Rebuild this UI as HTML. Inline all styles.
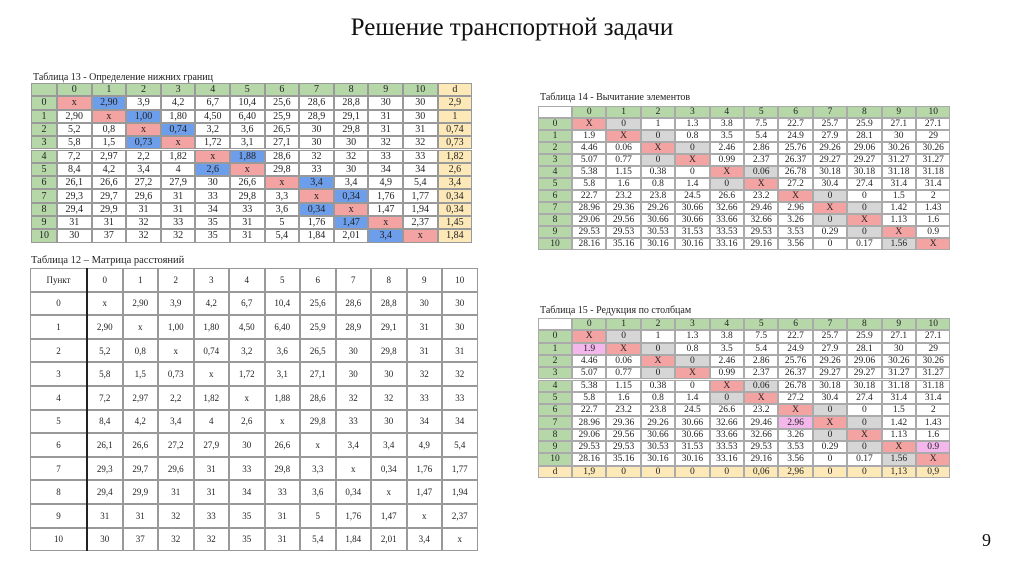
<!DOCTYPE html>
<html><head><meta charset="utf-8">
<style>
body{margin:0;width:1024px;height:574px;background:#fff;position:relative;overflow:hidden;font-family:"Liberation Serif","DejaVu Serif",serif}
.c{position:absolute;box-sizing:border-box;display:flex;align-items:center;justify-content:center;color:#222;white-space:nowrap}
.cap{position:absolute;font-size:10px;color:#222;white-space:nowrap}
</style></head><body>
<div style="position:absolute;left:0;width:1024px;top:14px;text-align:center;font-size:25px;color:#111">Решение транспортной задачи</div>
<div style="position:absolute;left:982px;top:530px;font-size:18px;color:#111">9</div>
<div class="cap" style="left:33px;top:72px">Таблица 13 - Определение нижних границ</div>
<div class="cap" style="left:540px;top:92px">Таблица 14 - Вычитание элементов</div>
<div class="cap" style="left:540px;top:305px">Таблица 15 - Редукция по столбцам</div>
<div class="cap" style="left:31px;top:255px;font-size:10.5px">Таблица 12 – Матрица расстояний</div>
<script>
const t12=[
["x","2,90","3,9","4,2","6,7","10,4","25,6","28,6","28,8","30","30"],
["2,90","x","1,00","1,80","4,50","6,40","25,9","28,9","29,1","31","30"],
["5,2","0,8","x","0,74","3,2","3,6","26,5","30","29,8","31","31"],
["5,8","1,5","0,73","x","1,72","3,1","27,1","30","30","32","32"],
["7,2","2,97","2,2","1,82","x","1,88","28,6","32","32","33","33"],
["8,4","4,2","3,4","4","2,6","x","29,8","33","30","34","34"],
["26,1","26,6","27,2","27,9","30","26,6","x","3,4","3,4","4,9","5,4"],
["29,3","29,7","29,6","31","33","29,8","3,3","x","0,34","1,76","1,77"],
["29,4","29,9","31","31","34","33","3,6","0,34","x","1,47","1,94"],
["31","31","32","33","35","31","5","1,76","1,47","x","2,37"],
["30","37","32","32","35","31","5,4","1,84","2,01","3,4","x"]];
const d13=["2,9","1","0,74","0,73","1,82","2,6","3,4","0,34","0,34","1,45","1,84"];
const blue13=[1,2,3,2,5,4,7,8,7,8,9];
const t14=[
["X","0","1","1.3","3.8","7.5","22.7","25.7","25.9","27.1","27.1"],
["1.9","X","0","0.8","3.5","5.4","24.9","27.9","28.1","30","29"],
["4.46","0.06","X","0","2.46","2.86","25.76","29.26","29.06","30.26","30.26"],
["5.07","0.77","0","X","0.99","2.37","26.37","29.27","29.27","31.27","31.27"],
["5.38","1.15","0.38","0","X","0.06","26.78","30.18","30.18","31.18","31.18"],
["5.8","1.6","0.8","1.4","0","X","27.2","30.4","27.4","31.4","31.4"],
["22.7","23.2","23.8","24.5","26.6","23.2","X","0","0","1.5","2"],
["28.96","29.36","29.26","30.66","32.66","29.46","2.96","X","0","1.42","1.43"],
["29.06","29.56","30.66","30.66","33.66","32.66","3.26","0","X","1.13","1.6"],
["29.53","29.53","30.53","31.53","33.53","29.53","3.53","0.29","0","X","0.9"],
["28.16","35.16","30.16","30.16","33.16","29.16","3.56","0","0.17","1.56","X"]];
const gray14=[1,2,3,2,5,4,7,8,7,8,9];
const d15=["1,9","0","0","0","0","0,06","2,96","0","0","1,13","0,9"];
const pink15=[[1,0],[7,6],[9,10]];

function cell(x,y,w,h,txt,bg,name,opt){
  const e=document.createElement('div');
  e.className='c';
  
  
  e.style.cssText=`left:${x}px;top:${y}px;width:${w}px;height:${h}px;background:${bg};font-size:${opt.fs}px;border:${opt.b};font-family:${opt.ff||'inherit'};${opt.extra||''}`;
  e.textContent=txt;
  document.body.appendChild(e);
}
const G='#b6d7a8',R='#f4a3a3',B='#6d9eeb',Y='#fde9b8',GR='#d6d6d6',P='#f3b7ec';
// Table 13
(function(){
  const x0=31,fw=26,cw=34.6,y0=83,rh=13.3,o={fs:10,b:'1px solid #999'};
  cell(x0,y0,fw,rh,'',G,'table13-corner',o);
  for(let j=0;j<11;j++)cell(x0+fw+j*cw,y0,cw,rh,String(j),G,'table13-col-header',o);
  cell(x0+fw+11*cw,y0,cw,rh,'d',Y,'table13-d-header',o);
  for(let i=0;i<11;i++){const y=y0+rh*(i+1);
    cell(x0,y,fw,rh,String(i),G,'table13-row-header',o);
    for(let j=0;j<11;j++){let bg='#fff';if(i==j)bg=R;else if(blue13[i]==j)bg=B;
      cell(x0+fw+j*cw,y,cw,rh,t12[i][j],bg,'table13-cell',o);}
    cell(x0+fw+11*cw,y,cw,rh,d13[i],Y,'table13-d-cell',o);}
})();
function t1415(y0,rh,pref,dRow){
  const x0=538,fw=34,cw=34.4,o={fs:9.5,b:'1px solid #aaa'};
  cell(x0,y0,fw,rh,'','#fff',pref+'-corner',o);
  for(let j=0;j<11;j++)cell(x0+fw+j*cw,y0,cw,rh,String(j),G,pref+'-col-header',o);
  for(let i=0;i<11;i++){const y=y0+rh*(i+1);
    cell(x0,y,fw,rh,String(i),G,pref+'-row-header',o);
    for(let j=0;j<11;j++){let bg='#fff';if(i==j)bg=R;else if(gray14[i]==j)bg=GR;
      if(dRow&&pink15.some(p=>p[0]==i&&p[1]==j))bg=P;
      cell(x0+fw+j*cw,y,cw,rh,t14[i][j],bg,pref+'-cell',o);}}
  if(dRow){const y=y0+rh*12;
    cell(x0,y,fw,rh,'d',Y,pref+'-d-header',o);
    for(let j=0;j<11;j++)cell(x0+fw+j*cw,y,cw,rh,d15[j],Y,pref+'-d-cell',o);}
}
t1415(106,12,'table14',false);
t1415(318,12.3,'table15',true);
// Table 12
(function(){
  const x0=30,fw=57,cw=35.5,y0=268,rh=23.6,o={fs:9,b:'1px solid #999'};
  cell(x0,y0,fw,rh,'Пункт','#fff','table12-header-point',o);
  for(let j=0;j<11;j++)cell(x0+fw+j*cw,y0,cw,rh,String(j),'#fff','table12-col-header',o);
  for(let i=0;i<11;i++){const y=y0+rh*(i+1);
    cell(x0,y,fw,rh,String(i),'#fff','table12-row-header',o);
    for(let j=0;j<11;j++)cell(x0+fw+j*cw,y,cw,rh,t12[i][j],'#fff','table12-cell',o);}
  const l=document.createElement('div');
  
  
  l.style.cssText=`position:absolute;left:${x0+fw-1}px;top:${y0}px;width:2px;height:${rh*12}px;background:#222`;
  document.body.appendChild(l);
})();
</script>
</body></html>
